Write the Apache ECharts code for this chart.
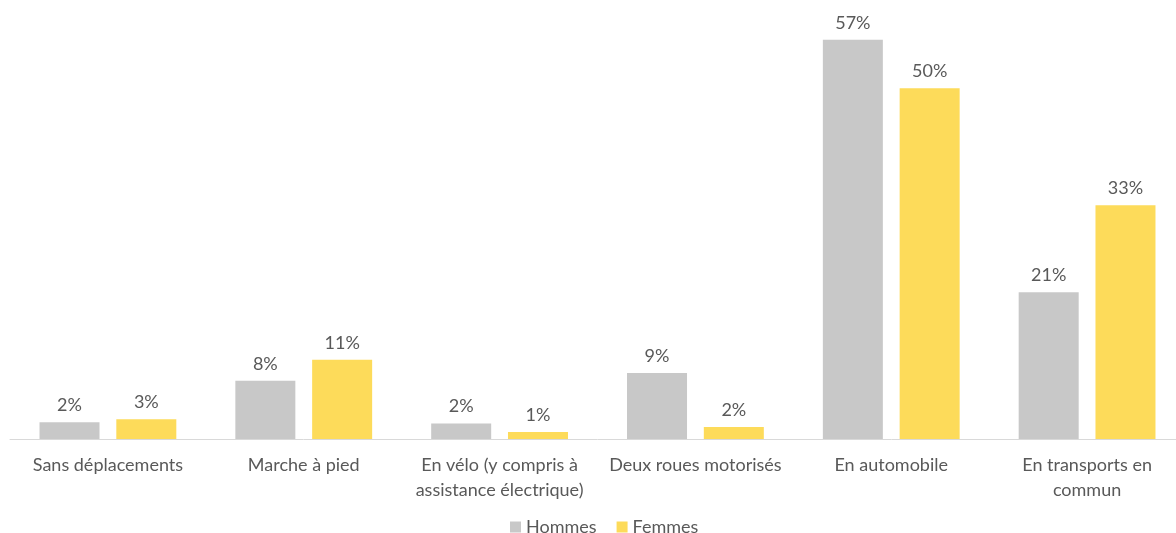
<!DOCTYPE html>
<html>
<head>
<meta charset="utf-8">
<script src="https://cdn.jsdelivr.net/npm/echarts@6/dist/echarts.min.js"></script>
<style>html,body{margin:0;padding:0;background:#fff;overflow:hidden;width:1176px;height:533px;}#c{width:1186px;height:533px;}</style>
</head>
<body>
<div id="c"></div>
<script>
var categories = ["Sans déplacements", "Marche à pied", "En vélo (y compris à\nassistance électrique)", "Deux roues motorisés", "En automobile", "En transports en\ncommun"];
var hommes = [2.4, 8.3, 2.2, 9.4, 56.9, 20.9];
var femmes = [2.8, 11.3, 1.0, 1.7, 50.0, 33.3];
var seriesNames = ["Hommes", "Femmes"];

var font = "Lato, 'Open Sans', sans-serif";
var chart = echarts.init(document.getElementById('c'));
var lbl = {show: true, position: 'top', distance: 8, color: '#595959', fontSize: 18, fontFamily: font,
  formatter: function (p) { return Math.round(p.value) + '%'; }};
chart.setOption({
  animation: false,
  grid: {left: 10, right: 1, top: 18, bottom: 94},
  legend: {top: 513, left: 505, itemWidth: 11, itemHeight: 11, itemGap: 20, icon: 'rect',
    textStyle: {color: '#595959', fontSize: 18, fontFamily: font}, data: seriesNames},
  xAxis: {type: 'category', data: categories,
    axisLine: {lineStyle: {color: '#d9d9d9', width: 1}}, axisTick: {show: false},
    axisLabel: {color: '#595959', fontSize: 18, fontFamily: font, lineHeight: 25, margin: 14, interval: 0}},
  yAxis: {type: 'value', min: 0, max: 60, show: false, splitLine: {show: false}},
  series: [
    {name: seriesNames[0], type: 'bar', data: hommes, barWidth: 60, barGap: '28%', itemStyle: {color: '#c8c8c8'}, label: lbl},
    {name: seriesNames[1], type: 'bar', data: femmes, barWidth: 60, barGap: '28%', itemStyle: {color: '#fddb5a'}, label: lbl}
  ]
});
</script>
</body>
</html>
